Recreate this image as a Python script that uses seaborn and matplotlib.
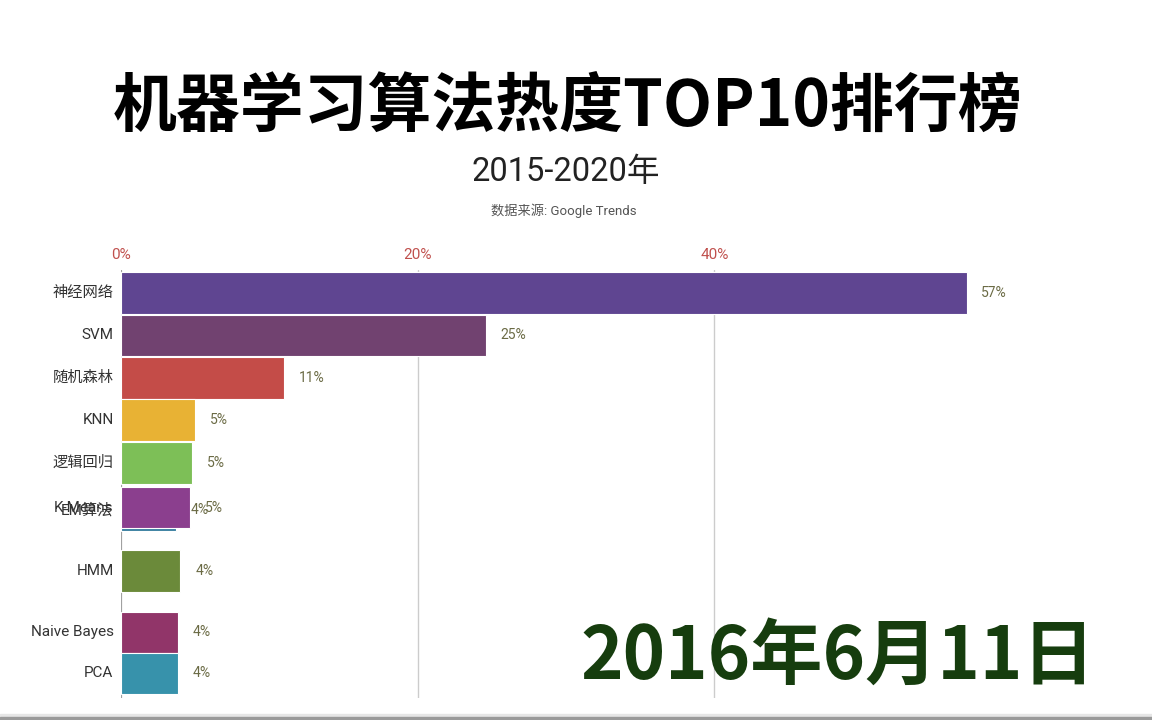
import matplotlib
matplotlib.use("Agg")
import matplotlib.pyplot as plt
from matplotlib.patches import Rectangle
import seaborn as sns

# --- Data (one frame of the bar race) ---
algorithms = ["神经网络", "SVM", "随机森林", "KNN", "逻辑回归",
              "EM算法", "K-Means", "HMM", "Naive Bayes", "PCA"]
share = [57.0, 24.6, 11.0, 5.0, 4.8, 3.7, 4.65, 4.0, 3.85, 3.85]
# row positions in this animation frame (bars still moving between ranks)
slot = [0.0, 1.0, 2.0, 2.99, 4.0, 5.11, 5.05, 6.54, 7.98, 8.95]
bar_colors = ["#5f4591", "#714270", "#c44c48", "#e8b234", "#7dbf57",
              "#3a7fa0", "#8b3f8e", "#6b8a3a", "#913569", "#3792ab"]
x_ticks = [0, 20, 40]
date_text = "2016年6月11日"

sns.set_theme(style="white")
plt.rcParams["font.family"] = ["Roboto", "Noto Sans CJK SC", "DejaVu Sans"]

fig = plt.figure(figsize=(11.52, 7.2), dpi=100)
ax = fig.add_axes([121 / 1152, 1 - 698 / 720, 890 / 1152, 428 / 720])

# --- Bars ---
for i, name in enumerate(algorithms):
    sns.barplot(x=[share[i]], y=[slot[i]], orient="y", native_scale=True,
                width=0.97, color=bar_colors[i], saturation=1,
                edgecolor="white", linewidth=0.8, errorbar=None,
                ax=ax, zorder=3 + i)
    ax.text(-0.5, slot[i], name, ha="right", va="center",
            fontsize=11, color="#333333", zorder=2)
    ax.text(share[i] + 1.0, slot[i], f"{share[i]:.0f}%", ha="left",
            va="center", fontsize=10, color="#6b6b45", zorder=2)

ax.set_xlim(0, 60)
ax.set_ylim(9.53, -0.54)
ax.set_xticks(x_ticks)
ax.set_xticklabels([f"{t}%" for t in x_ticks], color="#c0504d", fontsize=11)
ax.xaxis.tick_top()
ax.tick_params(axis="x", length=0, pad=6)
ax.set_yticks([])
ax.set_xlabel("")
ax.set_ylabel("")
for s in ax.spines.values():
    s.set_visible(False)
ax.grid(axis="x", color="#cccccc", linewidth=1, zorder=0)
ax.grid(axis="y", visible=False)
ax.axvline(0, color="#999999", linewidth=1.2, zorder=1)

# --- Titles ---
fig.text(0.493, 0.851, "机器学习算法热度TOP10排行榜", ha="center", va="center",
         fontsize=46, fontweight="bold", color="black",
         family=["Noto Sans CJK SC", "DejaVu Sans"])
fig.text(0.491, 0.761, "2015-2020年", ha="center", va="center",
         fontsize=23.5, color="#222222")
fig.text(0.489, 0.707, "数据来源: Google Trends", ha="center", va="center",
         fontsize=9.5, color="#555555")
fig.text(0.951, 0.0875, date_text, ha="right", va="center",
         fontsize=52, fontweight="bold", color="#163d0e",
         family=["Noto Sans CJK SC", "DejaVu Sans"])

# thin grey band along the bottom edge, as in the source frame
fig.patches.append(Rectangle((0, 3 / 720), 1, 3 / 720, transform=fig.transFigure,
                             color="#e6e6e6", zorder=0))
fig.patches.append(Rectangle((0, 0), 1, 3 / 720, transform=fig.transFigure,
                             color="#9a9a9a", zorder=0))

plt.savefig("out.png", dpi=100)
plt.close()
